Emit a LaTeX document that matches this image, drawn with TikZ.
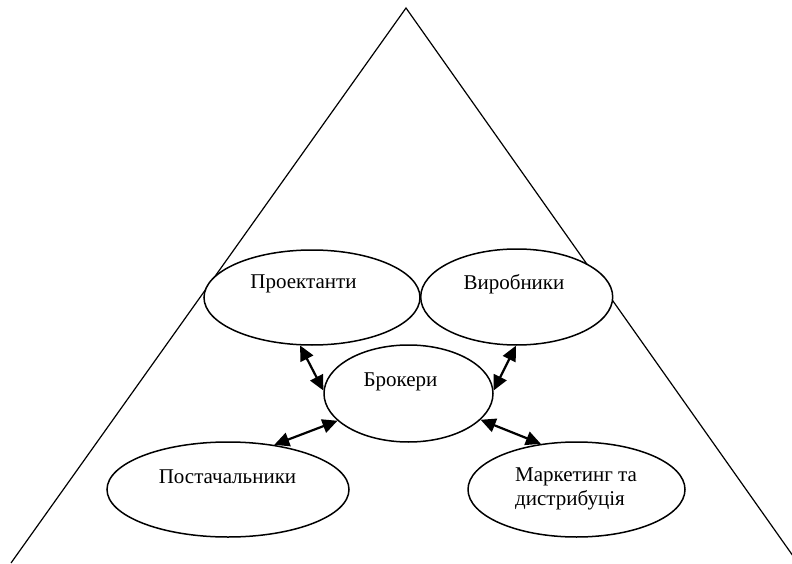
\documentclass[tikz,border=0pt]{standalone}
\usepackage{fontspec}
\setmainfont{Liberation Serif}
\usetikzlibrary{shapes.geometric,arrows.meta}
\begin{document}
\begin{tikzpicture}[x=1pt,y=-1pt,
  oval/.style={ellipse,draw,line width=1.5pt,fill=white,inner sep=0pt},
  lbl/.style={font=\fontsize{21}{23.5}\selectfont,inner sep=0pt},
  link/.style={line width=2.2pt,{Triangle[length=15pt,width=14pt]}-{Triangle[length=15pt,width=14pt]}}]
\useasboundingbox (0,0) rectangle (792,564);
% pyramid
\draw[line width=1.2pt,line join=miter] (11,563) -- (406,8) -- (798,563);
% ovals
\node[oval,minimum width=216pt,minimum height=95pt] (p) at (312,297.5) {};
\node[oval,minimum width=192pt,minimum height=96pt] (v) at (516.7,297) {};
\node[oval,minimum width=169pt,minimum height=97pt] (b) at (408.5,393.5) {};
\node[oval,minimum width=242pt,minimum height=95pt] (s) at (228,489.5) {};
\node[oval,minimum width=217pt,minimum height=95pt] (m) at (576.5,489.5) {};
% labels
\node[lbl] (pt) at (303.5,284) {Проектанти};
\node[lbl] (vt) at (514,284) {Виробники};
\node[lbl] (bt) at (400.5,382) {Брокери};
\node[lbl] (st) at (227.5,477) {Постачальники};
\node[lbl,align=left,anchor=west] (mt) at (515,489) {Маркетинг та\\дистрибуція};
% connectors
\draw[link] (p.256) -- (b.178);
\draw[link] (v.269) -- (b.2);
\draw[link] (b.201) -- (s.44);
\draw[link] (b.340) -- (m.128);
\end{tikzpicture}
\end{document}
